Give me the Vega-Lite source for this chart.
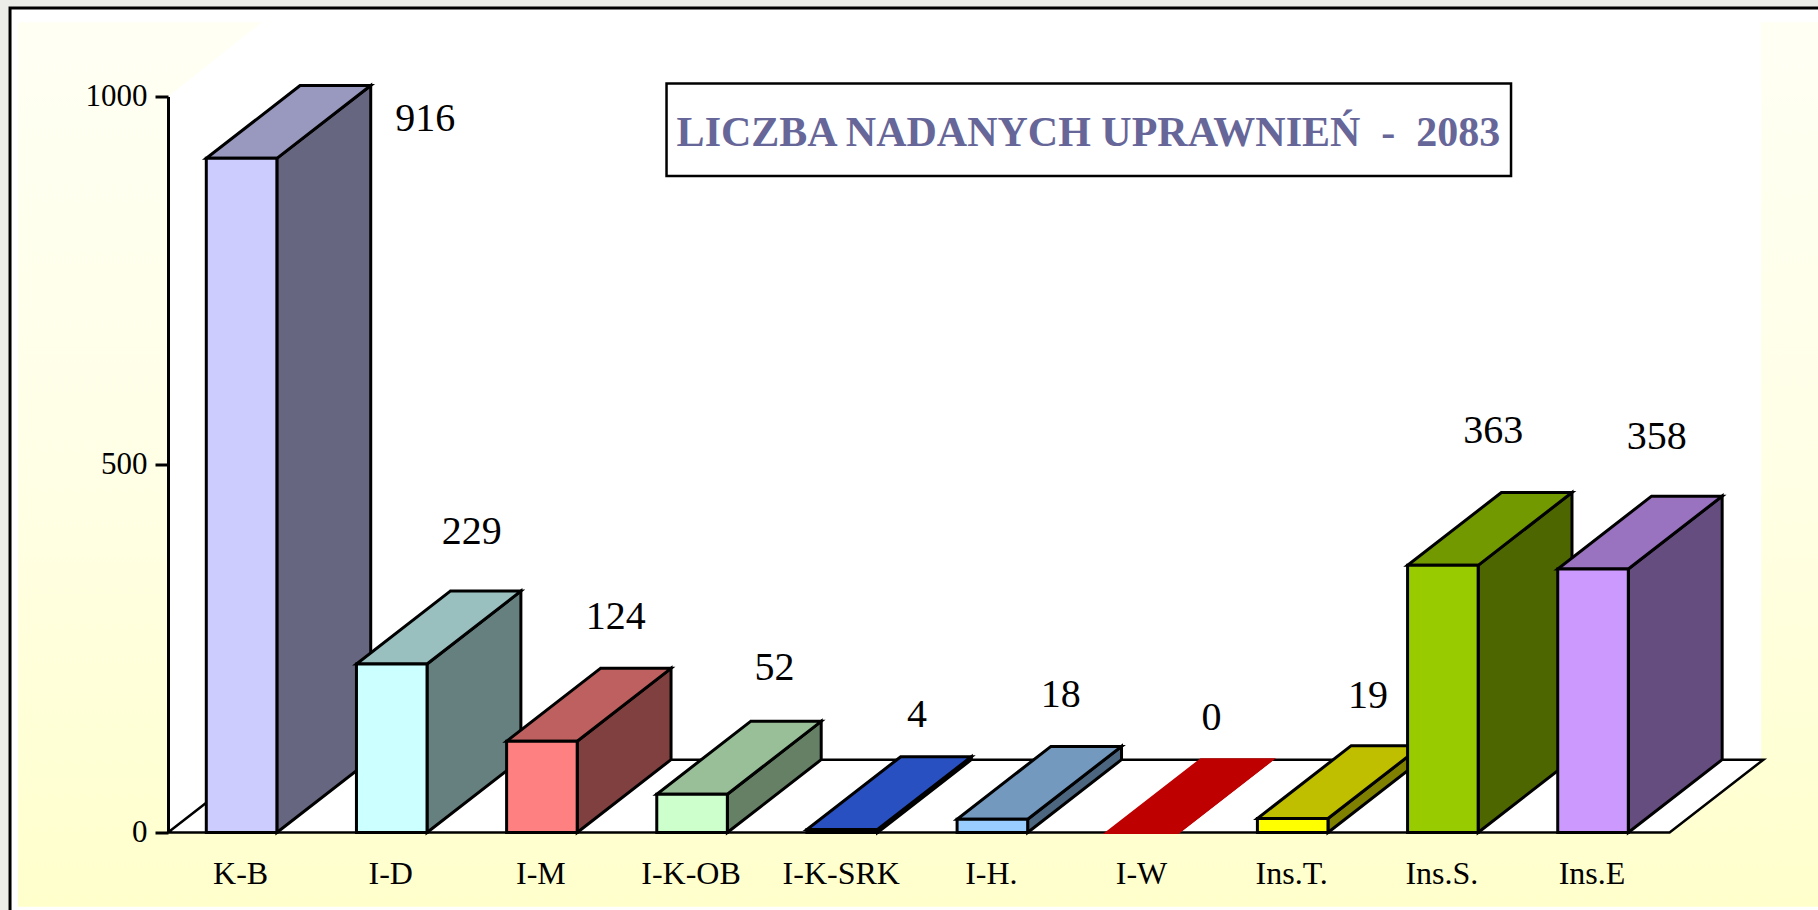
{
"$schema":"https://vega.github.io/schema/vega-lite/v6.json",
"width":1501.6,"height":736,
"autosize":{"type":"none"},
"padding":{"left":168,"top":96.5,"right":148.4,"bottom":77.5},
"background":"#ecece9",
"config":{"view":{"stroke":null},"font":"Liberation Serif"},
"data":{"values":[
{"category":"K-B","value":916},{"category":"I-D","value":229},{"category":"I-M","value":124},{"category":"I-K-OB","value":52},{"category":"I-K-SRK","value":4},{"category":"I-H.","value":18},{"category":"I-W","value":0},{"category":"Ins.T.","value":19},{"category":"Ins.S.","value":363},{"category":"Ins.E","value":358}]},
"transform":[{"window":[{"op":"row_number","as":"n"}]},{"calculate":"datum.n-0.5-0.245","as":"left"},{"calculate":"datum.n-0.5+0.225","as":"right"}],
"resolve":{"scale":{"x":"independent","fill":"independent"},"axis":{"y":"independent"}},
"layer":[
{"data":{"values":[{"x0":-1.052,"x1":11.07,"v0":-119,"v1":1120.4}]},
 "mark":{"type":"rect","fill":"#ffffff","stroke":"#000000","strokeWidth":3},
 "encoding":{"x":{"field":"x0","type":"quantitative","axis":null,"scale":{"domain":[0,10]}},"x2":{"field":"x1"},"y":{"field":"v0","type":"quantitative","axis":null,"scale":{"domain":[0,1000],"nice":false}},"y2":{"field":"v1"}}},
{"data":{"values":[{"x0":-0.999,"x1":10.99,"v0":-101,"v1":1101}]},
 "mark":{"type":"rect","fill":{"gradient":"linear","x1":0,"y1":0,"x2":0,"y2":1,"stops":[{"offset":0,"color":"#fffff4"},{"offset":0.5,"color":"#ffffe6"},{"offset":1,"color":"#ffffcc"}]}},
 "encoding":{"x":{"field":"x0","type":"quantitative","axis":null,"scale":{"domain":[0,10]}},"x2":{"field":"x1"},"y":{"field":"v0","type":"quantitative","axis":null,"scale":{"domain":[0,1000],"nice":false}},"y2":{"field":"v1"}}},
{"data":{"values":[{"x0":0.625,"x1":10.61,"v":1101},{"x0":0,"x1":10.61,"v":1000},{"x0":0,"x1":10.61,"v":99},{"x0":0,"x1":1,"v":98},{"x0":0,"x1":1,"v":0}]},
 "mark":{"type":"area","orient":"horizontal","fill":"#ffffff"},
 "encoding":{"x":{"field":"x0","type":"quantitative","axis":null,"scale":{"domain":[0,10]}},"x2":{"field":"x1"},"y":{"field":"v","type":"quantitative","axis":null,"scale":{"domain":[0,1000],"nice":false}}}},
{"data":{"values":[{"x0":0,"x1":10,"v":0},{"x0":0.625,"x1":10.625,"v":99}]},
 "mark":{"type":"area","orient":"horizontal","fill":"#ffffff","stroke":"#000000","strokeWidth":2.5},
 "encoding":{"x":{"field":"x0","type":"quantitative","axis":null,"scale":{"domain":[0,10]}},"x2":{"field":"x1"},"y":{"field":"v","type":"quantitative","axis":null,"scale":{"domain":[0,1000],"nice":false}}}},
{"transform":[{"calculate":"[0,1]","as":"t"},{"flatten":["t"]},{"calculate":"datum.right+datum.t*0.625","as":"sx"},{"calculate":"datum.t*99","as":"sy"},{"calculate":"datum.value+datum.t*99","as":"sy2"}],
 "mark":{"type":"area","strokeWidth":3,"strokeJoin":"miter"},
 "encoding":{"x":{"field":"sx","type":"quantitative","axis":null,"scale":{"domain":[0,10]}},"y":{"field":"sy","type":"quantitative","axis":null,"scale":{"domain":[0,1000],"nice":false}},"y2":{"field":"sy2"},
  "fill":{"field":"category","type":"nominal","legend":null,"scale":{"domain":["K-B","I-D","I-M","I-K-OB","I-K-SRK","I-H.","I-W","Ins.T.","Ins.S.","Ins.E"],"range":["#666680","#668080","#804040","#668066","#1e3c90","#4d6680","#800000","#808000","#4d6600","#664d80"]}},
  "stroke":{"condition":{"test":"datum.category==='I-W'","value":"#bf0000"},"value":"#000000"}}},
{"transform":[{"calculate":"[0,1]","as":"t"},{"flatten":["t"]},{"calculate":"datum.left+datum.t*0.625","as":"tx"},{"calculate":"datum.right+datum.t*0.625","as":"tx2"},{"calculate":"datum.value+datum.t*99","as":"ty"}],
 "mark":{"type":"area","orient":"horizontal","strokeWidth":3,"strokeJoin":"miter"},
 "encoding":{"x":{"field":"tx","type":"quantitative","axis":null,"scale":{"domain":[0,10]}},"x2":{"field":"tx2"},"y":{"field":"ty","type":"quantitative","axis":null,"scale":{"domain":[0,1000],"nice":false}},
  "fill":{"field":"category","type":"nominal","legend":null,"scale":{"domain":["K-B","I-D","I-M","I-K-OB","I-K-SRK","I-H.","I-W","Ins.T.","Ins.S.","Ins.E"],"range":["#9999bf","#99bfbf","#bf6060","#99bf99","#2850c0","#7399bf","#bf0000","#bfbf00","#739900","#9973bf"]}},
  "stroke":{"condition":{"test":"datum.category==='I-W'","value":"#bf0000"},"value":"#000000"}}},
{"mark":{"type":"bar","stroke":"#000000","strokeWidth":3,"xOffset":-1.5},
 "transform":[{"filter":"datum.value>0"}],
 "encoding":{"x":{"field":"category","type":"nominal","sort":null,"title":null,
   "scale":{"domain":["K-B","I-D","I-M","I-K-OB","I-K-SRK","I-H.","I-W","Ins.T.","Ins.S.","Ins.E"],"paddingInner":0.53,"paddingOuter":0.265},
   "axis":{"domain":false,"ticks":false,"labelAngle":0,"labelFont":"Liberation Serif","labelFontSize":32,"labelColor":"#000000","labelPadding":26,"labelOffset":-2.5,"zindex":1,"labelOverlap":false}},
  "y":{"field":"value","type":"quantitative","stack":null,"title":null,"scale":{"domain":[0,1000],"nice":false},
   "axis":{"values":[0,500,1000],"format":"d","grid":false,"domainColor":"#000000","domainWidth":3,"tickColor":"#000000","tickWidth":3,"tickSize":13,"labelPadding":8,"labelFont":"Liberation Serif","labelFontSize":31,"labelColor":"#000000","zindex":1}},
  "fill":{"field":"category","type":"nominal","legend":null,"scale":{"domain":["K-B","I-D","I-M","I-K-OB","I-K-SRK","I-H.","I-W","Ins.T.","Ins.S.","Ins.E"],"range":["#ccccff","#ccffff","#ff8080","#ccffcc","#3366ff","#99ccff","#ff0000","#ffff00","#99cc00","#cc99ff"]}}}},
{"transform":[{"calculate":"datum.n-0.5+({'K-B':1.214,'I-D':0.523,'I-M':0.481,'I-K-OB':0.539,'I-K-SRK':0.488,'I-H.':0.446,'I-W':0.45,'Ins.T.':0.492,'Ins.S.':0.326,'Ins.E':0.415})[datum.category]","as":"lx"},
  {"calculate":"datum.value+99+({'K-B':-44,'I-D':82,'I-M':72,'I-K-OB':74,'I-K-SRK':58,'I-H.':72,'I-W':58,'Ins.T.':69,'Ins.S.':85,'Ins.E':82})[datum.category]-2","as":"ly"}],
 "mark":{"type":"text","font":"Liberation Serif","fontSize":40,"color":"#000000","baseline":"middle","align":"center"},
 "encoding":{"x":{"field":"lx","type":"quantitative","axis":null,"scale":{"domain":[0,10]}},"y":{"field":"ly","type":"quantitative","axis":null,"scale":{"domain":[0,1000],"nice":false}},"text":{"field":"value","type":"quantitative"}}},
{"data":{"values":[{"x0":3.32,"x1":8.944,"v0":892,"v1":1017.7}]},
 "mark":{"type":"rect","fill":"#ffffff","stroke":"#000000","strokeWidth":2.5},
 "encoding":{"x":{"field":"x0","type":"quantitative","axis":null,"scale":{"domain":[0,10]}},"x2":{"field":"x1"},"y":{"field":"v0","type":"quantitative","axis":null,"scale":{"domain":[0,1000],"nice":false}},"y2":{"field":"v1"}}},
{"data":{"values":[{"x":6.13,"v":951,"label":"LICZBA NADANYCH UPRAWNIEŃ \u00a0-\u00a0 2083"}]},
 "mark":{"type":"text","font":"Liberation Serif","fontWeight":"bold","fontSize":42,"color":"#666699","baseline":"middle","align":"center"},
 "encoding":{"x":{"field":"x","type":"quantitative","axis":null,"scale":{"domain":[0,10]}},"y":{"field":"v","type":"quantitative","axis":null,"scale":{"domain":[0,1000],"nice":false}},"text":{"field":"label"}}}
]}
